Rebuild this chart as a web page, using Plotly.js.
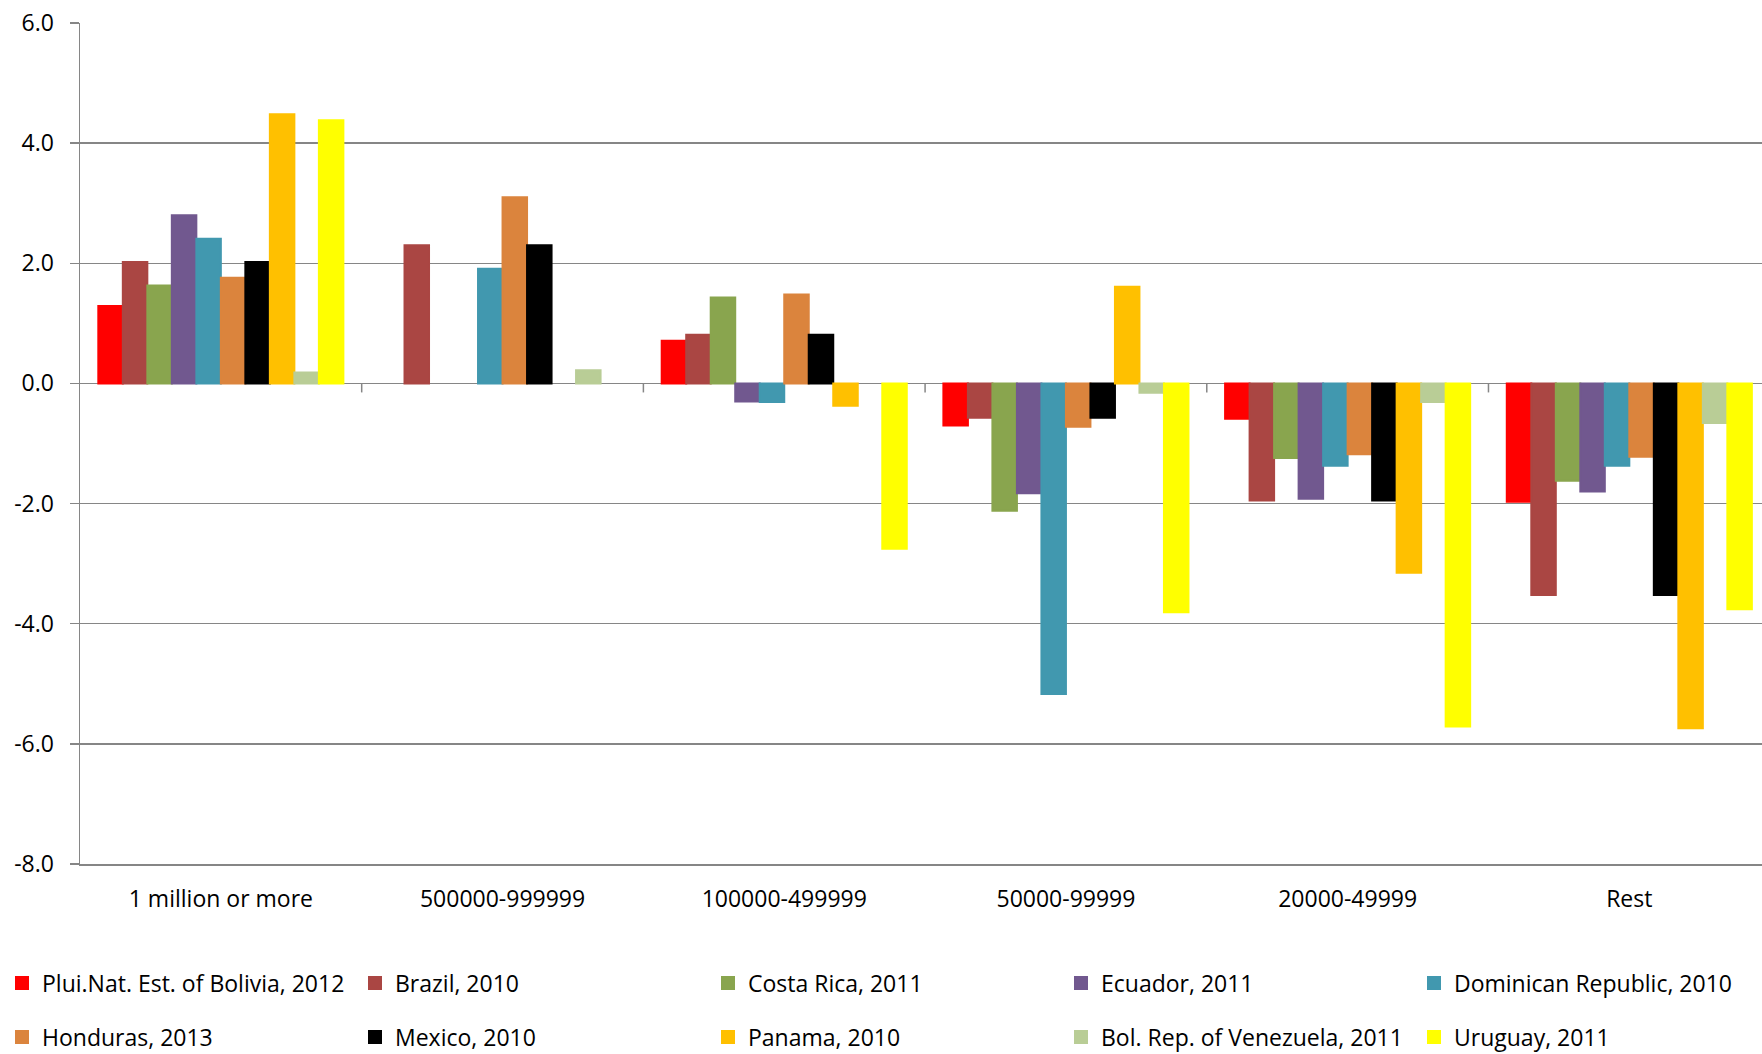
<!DOCTYPE html>
<html>
<head>
<meta charset="utf-8">
<script src="https://cdn.plot.ly/plotly-3.0.1.min.js"></script>
<style>
  html, body { margin: 0; padding: 0; background: #ffffff; }
  #chart { width: 1762px; height: 1054px; }
</style>
</head>
<body>
<div id="chart"></div>
<script>
// Categories (city-size classes)
const categories = ["1 million or more", "500000-999999", "100000-499999", "50000-99999", "20000-49999", "Rest"];

// Series names
const seriesNames = [
  "Plui.Nat. Est. of Bolivia, 2012",
  "Brazil, 2010",
  "Costa Rica, 2011",
  "Ecuador, 2011",
  "Dominican Republic, 2010",
  "Honduras, 2013",
  "Mexico, 2010",
  "Panama, 2010",
  "Bol. Rep. of Venezuela, 2011",
  "Uruguay, 2011"
];

// Series values
const bolivia   = [1.29, null, 0.71, -0.70, -0.59, -1.97];
const brazil    = [2.02, 2.30, 0.81, -0.57, -1.95, -3.52];
const costaRica = [1.63, null, 1.43, -2.12, -1.24, -1.62];
const ecuador   = [2.80, null, -0.30, -1.83, -1.92, -1.80];
const dominican = [2.41, 1.91, -0.31, -5.17, -1.37, -1.37];
const honduras  = [1.76, 3.10, 1.48, -0.72, -1.18, -1.22];
const mexico    = [2.02, 2.30, 0.81, -0.57, -1.95, -3.52];
const panama    = [4.48, null, -0.37, 1.61, -3.15, -5.74];
const venezuela = [0.18, 0.22, null, -0.155, -0.31, -0.66];
const uruguay   = [4.38, null, -2.75, -3.81, -5.71, -3.76];

// Y-axis tick values
const yTickVals = [-8, -6, -4, -2, 0, 2, 4, 6];
const yTickText = yTickVals.map(v => v.toFixed(1));

const seriesValues = [bolivia, brazil, costaRica, ecuador, dominican, honduras, mexico, panama, venezuela, uruguay];

const colors = ["#FF0000", "#AA4643", "#89A54E", "#71588F", "#4198AF", "#DB843D", "#000000", "#FFC000", "#B9CD96", "#FFFF00"];

const FONT = "Open Sans, sans-serif";
const GRID = "#868686";

const traces = seriesNames.map((name, i) => ({
  type: "bar",
  name: name,
  x: categories,
  y: seriesValues[i],
  marker: { color: colors[i], line: { width: 2, color: colors[i] } },
  legend: i < 5 ? "legend" : "legend2",
  hoverinfo: "skip"
}));

// small tick marks on the zero line between categories
const shapes = categories.slice(0, -1).map((c, i) => ({
  type: "line",
  xref: "x", yref: "y",
  x0: i + 0.5, x1: i + 0.5,
  ysizemode: "pixel", yanchor: 0,
  y0: 0, y1: -9,
  line: { color: GRID, width: 1.5 }
}));

const legendCommon = {
  orientation: "h",
  xanchor: "left",
  yanchor: "middle",
  x: -78 / 1682,
  font: { family: FONT, size: 23, color: "#000000" },
  entrywidth: 308,
  entrywidthmode: "pixels",
  itemwidth: 30,
  traceorder: "normal",
  bgcolor: "rgba(0,0,0,0)"
};

const layout = {
  width: 1762,
  height: 1054,
  margin: { l: 80, r: 0, t: 23, b: 190, autoexpand: false },
  paper_bgcolor: "#ffffff",
  plot_bgcolor: "#ffffff",
  barmode: "group",
  bargap: 0.13,
  bargroupgap: 0,
  font: { family: FONT, size: 23, color: "#000000" },
  showlegend: true,
  legend: Object.assign({}, legendCommon, { y: (864 - 983) / 841 }),
  legend2: Object.assign({}, legendCommon, { y: (864 - 1037) / 841 }),
  xaxis: {
    type: "category",
    range: [-0.5, 5.471],
    showgrid: false,
    showline: true,
    linecolor: GRID,
    linewidth: 1.5,
    ticks: "",
    ticklabelstandoff: 14,
    tickfont: { family: FONT, size: 23, color: "#000000" },
    fixedrange: true
  },
  yaxis: {
    range: [-8, 6],
    tickmode: "array",
    tickvals: yTickVals,
    ticktext: yTickText,
    showgrid: true,
    gridcolor: GRID,
    gridwidth: 1.5,
    zeroline: true,
    zerolinecolor: GRID,
    zerolinewidth: 1.5,
    showline: true,
    linecolor: GRID,
    linewidth: 1.5,
    ticks: "outside",
    ticklen: 9,
    tickwidth: 1.5,
    tickcolor: GRID,
    ticklabelstandoff: 11,
    tickfont: { family: FONT, size: 23, color: "#000000" },
    fixedrange: true
  },
  shapes: shapes
};

Plotly.newPlot("chart", traces, layout, { displayModeBar: false, staticPlot: true });
</script>
</body>
</html>
